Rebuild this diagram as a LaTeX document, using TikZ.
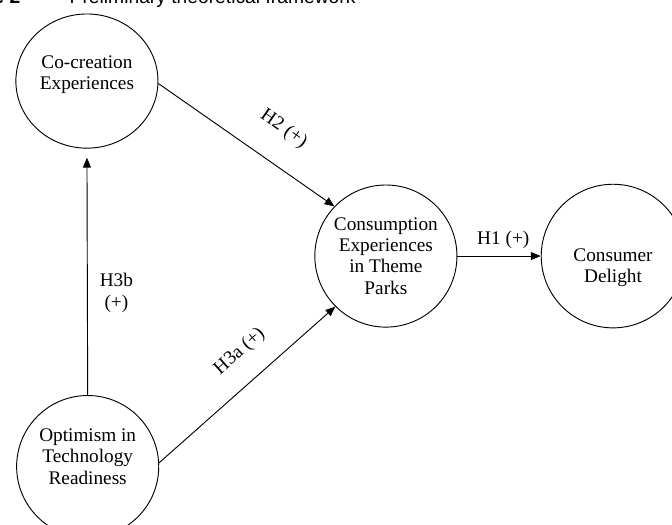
\documentclass[tikz,border=0pt]{standalone}
\usepackage{fontspec}
\setmainfont{Liberation Serif}
\newfontfamily\captionfont{Liberation Sans}
\usetikzlibrary{arrows.meta,positioning,shapes.geometric}

\begin{document}
\begin{tikzpicture}[
    construct/.style={circle, draw, line width=0.7pt, inner sep=0pt, minimum size=3.76cm},
    constructtext/.style={align=center, inner sep=0pt, font=\fontsize{14.5}{16}\selectfont},
    hyp/.style={line width=0.7pt, -{Triangle[length=2.6mm, width=2.1mm]}},
    hyplabel/.style={font=\fontsize{14.5}{16}\selectfont, inner sep=2pt}
  ]
    % page frame (figure is cut at top and bottom)
    \clip (0,0) rectangle (17.78,13.865);

    % caption, only its lower part is visible
    \node[anchor=base east, font=\captionfont\bfseries\fontsize{14.5}{16}\selectfont] (figno) at (0.66,13.77) {Figure 2};
    \node[anchor=base west, font=\captionfont\fontsize{14.5}{16}\selectfont] (figtitle) at (1.72,13.77) {Preliminary theoretical framework};

    % constructs
    \node[construct, ellipse, minimum width=3.76cm, minimum height=3.55cm] (cocreation) at (2.30,11.72) {};
    \node[construct] (optimism) at (2.32,1.52) {};
    \node[construct] (consumption) at (10.21,7.09) {};
    \node[construct, minimum size=3.80cm] (delight) at (16.22,7.09) {};

    % construct names (not quite centred in the circles)
    \node[constructtext] (cocreationtext) at ([yshift=5pt]cocreation.center) {Co-creation\\Experiences};
    \node[constructtext] (optimismtext) at ([yshift=7.5pt]optimism.center) {Optimism in\\Technology\\Readiness};
    \node[constructtext] (consumptiontext) at (consumption.center) {Consumption\\Experiences\\in Theme\\Parks};
    \node[constructtext] (delighttext) at ([yshift=-9pt]delight.center) {Consumer\\Delight};

    % hypotheses
    \draw[hyp] (consumption.east) -- (delight.west)
      node[hyplabel, pos=0.55, above=3pt] {H1 (+)};
    \draw[hyp] (cocreation.-2) -- (consumption.136)
      node[hyplabel, pos=0.6, sloped, above=17pt] {H2 (+)};
    \draw[hyp] (optimism.3) -- (consumption.225)
      node[hyplabel, pos=0.57, sloped, above=13.5pt] {H3a (+)};
    \draw[hyp, shorten >=0.24cm] (optimism.north) -- (cocreation.south)
      node[hyplabel, pos=0.415, right=7pt, align=center] {H3b\\(+)};
  \end{tikzpicture}
\end{document}
